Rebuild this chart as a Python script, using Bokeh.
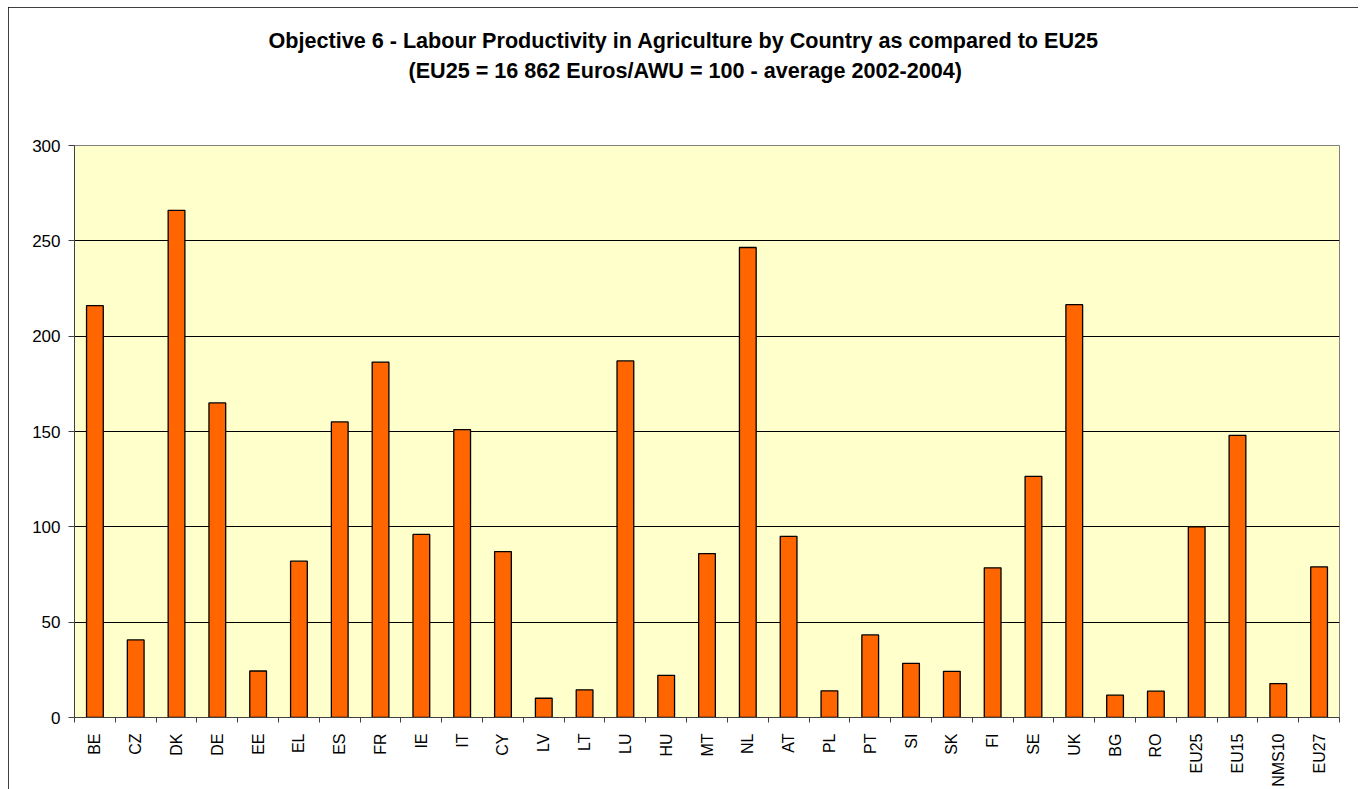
import math
from bokeh.plotting import figure
from bokeh.models import Range1d, FixedTicker, Title, ColumnDataSource
from bokeh.embed import file_html
from bokeh.resources import INLINE

countries = ["BE", "CZ", "DK", "DE", "EE", "EL", "ES", "FR", "IE", "IT", "CY", "LV", "LT",
             "LU", "HU", "MT", "NL", "AT", "PL", "PT", "SI", "SK", "FI", "SE", "UK", "BG",
             "RO", "EU25", "EU15", "NMS10", "EU27"]
productivity = [216, 40.7, 266, 165, 24.4, 82, 155, 186.4, 96, 151, 87, 10.1, 14.5,
                187, 22.1, 86, 246.5, 95, 14, 43.3, 28.4, 24.2, 78.5, 126.5, 216.5, 11.7,
                13.8, 100, 148, 17.8, 79]
y_ticks = [0, 50, 100, 150, 200, 250, 300]
title_line1 = "Objective 6 - Labour Productivity in Agriculture by Country as compared to EU25"
title_line2 = "(EU25 = 16 862 Euros/AWU = 100 - average 2002-2004)"

FONT = "Liberation Sans"
n = len(countries)
centers = [i + 0.5 for i in range(n)]
src = ColumnDataSource(dict(x=centers, top=productivity, name=countries))

p = figure(width=1350, height=782, output_backend="svg", toolbar_location=None,
           x_range=Range1d(0, n), y_range=Range1d(0, 300),
           min_border_left=66, min_border_right=19, min_border_bottom=72, min_border_top=138,
           background_fill_color="#FFFFCC", border_fill_color="white",
           outline_line_color="#808080", outline_line_width=1)
p.margin = (7, 3, 0, 8)
p.styles = {"outline": "1px solid black", "outline-offset": "-1px"}

# titles (added from frame outward)
p.add_layout(Title(text=" ", text_font_size="44px", text_font=FONT), "above")
p.add_layout(Title(text=title_line2, text_font_size="21.6px", text_font=FONT,
                   text_font_style="bold", text_color="black", align="left",
                   offset=334, standoff=4), "above")
p.add_layout(Title(text=title_line1, text_font_size="21.6px", text_font=FONT,
                   text_font_style="bold", text_color="black", align="left",
                   offset=194, standoff=1), "above")

p.vbar(x="x", top="top", width=0.41, bottom=0, source=src,
       fill_color="#FF6600", line_color="black", line_width=1.3)

# x axis
xa = p.xaxis[0]
xa.ticker = FixedTicker(ticks=centers, minor_ticks=list(range(n + 1)))
xa.major_label_overrides = {c: name for c, name in zip(centers, countries)}
xa.major_label_orientation = math.pi / 2
xa.major_label_text_font = FONT
xa.major_label_text_font_size = "16px"
xa.major_label_text_color = "black"
xa.major_label_standoff = 11
xa.major_tick_out = 0
xa.major_tick_in = 0
xa.minor_tick_out = 5
xa.minor_tick_in = 0
xa.minor_tick_line_color = "#404040"
xa.axis_line_color = "#404040"

# y axis
ya = p.yaxis[0]
ya.ticker = FixedTicker(ticks=y_ticks, minor_ticks=[])
ya.major_label_text_font = FONT
ya.major_label_text_font_size = "17px"
ya.major_label_text_color = "black"
ya.major_label_standoff = 8
ya.major_tick_out = 6
ya.major_tick_in = 0
ya.major_tick_line_color = "#404040"
ya.axis_line_color = "#404040"

p.xgrid.visible = False
p.ygrid.ticker = FixedTicker(ticks=y_ticks)
p.ygrid.grid_line_color = "black"
p.ygrid.grid_line_width = 1

open("out.html", "w").write(file_html(p, INLINE))
